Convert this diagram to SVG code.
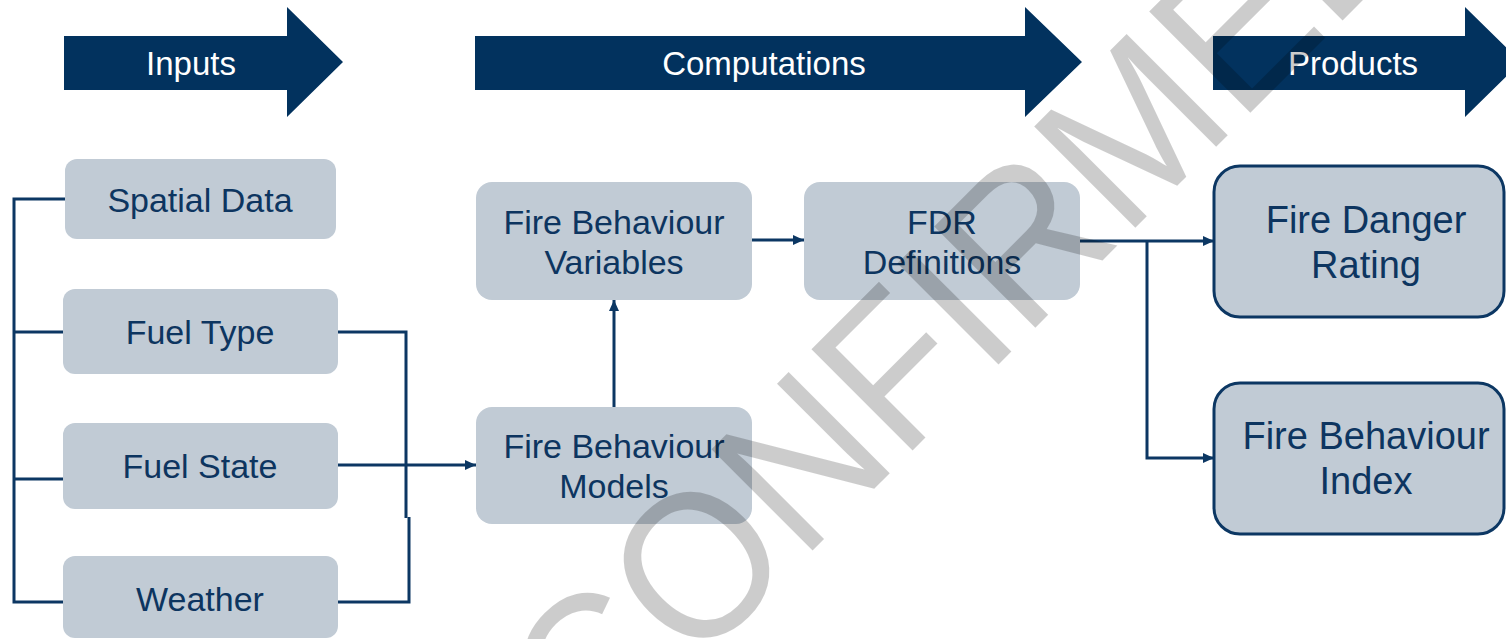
<svg xmlns="http://www.w3.org/2000/svg" width="1506" height="639" viewBox="0 0 1506 639">
<style>
  .hdr { fill: #02325e; }
  .hdrt { fill: #ffffff; font-family: "Liberation Sans", Arial, sans-serif; font-size: 33px; text-anchor: middle; }
  .box { fill: #c1cbd5; }
  .pbox { fill: #c1cbd5; stroke: #0c3763; stroke-width: 3; }
  .t { fill: #0d3560; font-family: "Liberation Sans", Arial, sans-serif; font-size: 34px; text-anchor: middle; }
  .tb { fill: #0d3560; font-family: "Liberation Sans", Arial, sans-serif; font-size: 38px; text-anchor: middle; }
  .ln { fill: none; stroke: #0c3763; stroke-width: 3; }
  .wm { fill: #000000; fill-opacity: 0.2; font-family: "Liberation Sans", Arial, sans-serif; font-size: 208px; }
</style>
<defs>
  <marker id="ah" markerUnits="userSpaceOnUse" markerWidth="12" markerHeight="12" refX="11" refY="5" orient="auto">
    <path d="M0,0 L11,5 L0,10 Z" fill="#0c3763"/>
  </marker>
</defs>
<rect width="1506" height="639" fill="#ffffff"/>

<g id="header-inputs">
  <path class="hdr" d="M64,36 H287 V7 L343,62 L287,117 V90 H64 Z"/>
  <text class="hdrt" x="191" y="75">Inputs</text>
</g>
<g id="header-computations">
  <path class="hdr" d="M475,36 H1025 V7 L1082,62 L1025,117 V90 H475 Z"/>
  <text class="hdrt" x="764" y="75">Computations</text>
</g>
<g id="header-products">
  <path class="hdr" d="M1213,36 H1465 V7 L1521,62 L1465,117 V90 H1213 Z"/>
  <text class="hdrt" x="1353" y="75">Products</text>
</g>

<g id="spatial-data">
  <rect class="box" x="65" y="159" width="271" height="80" rx="12"/>
  <text class="t" x="200" y="212">Spatial Data</text>
</g>
<g id="fuel-type">
  <rect class="box" x="63" y="289" width="275" height="85" rx="12"/>
  <text class="t" x="200" y="344">Fuel Type</text>
</g>
<g id="fuel-state">
  <rect class="box" x="63" y="423" width="275" height="86" rx="12"/>
  <text class="t" x="200" y="478">Fuel State</text>
</g>
<g id="weather">
  <rect class="box" x="63" y="556" width="275" height="82" rx="12"/>
  <text class="t" x="200" y="611">Weather</text>
</g>

<g id="fire-behaviour-variables">
  <rect class="box" x="476" y="182" width="276" height="118" rx="16"/>
  <text class="t" x="614" y="234">Fire Behaviour</text>
  <text class="t" x="614" y="274">Variables</text>
</g>
<g id="fire-behaviour-models">
  <rect class="box" x="476" y="407" width="276" height="117" rx="16"/>
  <text class="t" x="614" y="458">Fire Behaviour</text>
  <text class="t" x="614" y="498">Models</text>
</g>
<g id="fdr-definitions">
  <rect class="box" x="804" y="182" width="276" height="118" rx="16"/>
  <text class="t" x="942" y="234">FDR</text>
  <text class="t" x="942" y="274">Definitions</text>
</g>

<g id="fire-danger-rating">
  <rect class="pbox" x="1214" y="166" width="290" height="151" rx="26"/>
  <text class="tb" x="1366" y="233">Fire Danger</text>
  <text class="tb" x="1366" y="278">Rating</text>
</g>
<g id="fire-behaviour-index">
  <rect class="pbox" x="1214" y="383" width="290" height="151" rx="26"/>
  <text class="tb" x="1366" y="449">Fire Behaviour</text>
  <text class="tb" x="1366" y="494">Index</text>
</g>

<g id="connectors">
  <path class="ln" d="M65,199 H14 V602 H63"/>
  <path class="ln" d="M14,332 H63"/>
  <path class="ln" d="M14,479 H63"/>
  <path class="ln" d="M338,332 H406 V518"/>
  <path class="ln" d="M338,602 H409 V517"/>
  <path class="ln" d="M338,465 H476" marker-end="url(#ah)"/>
  <path class="ln" d="M614,407 V300" marker-end="url(#ah)"/>
  <path class="ln" d="M752,240 H804" marker-end="url(#ah)"/>
  <path class="ln" d="M1080,241 H1214" marker-end="url(#ah)"/>
  <path class="ln" d="M1147,241 V458 H1214" marker-end="url(#ah)"/>
</g>

<g id="watermark">
  <text class="wm" x="0" y="0" transform="translate(594 769) rotate(-45) scale(0.94 1)">CONFIRMED</text>
</g>
</svg>
